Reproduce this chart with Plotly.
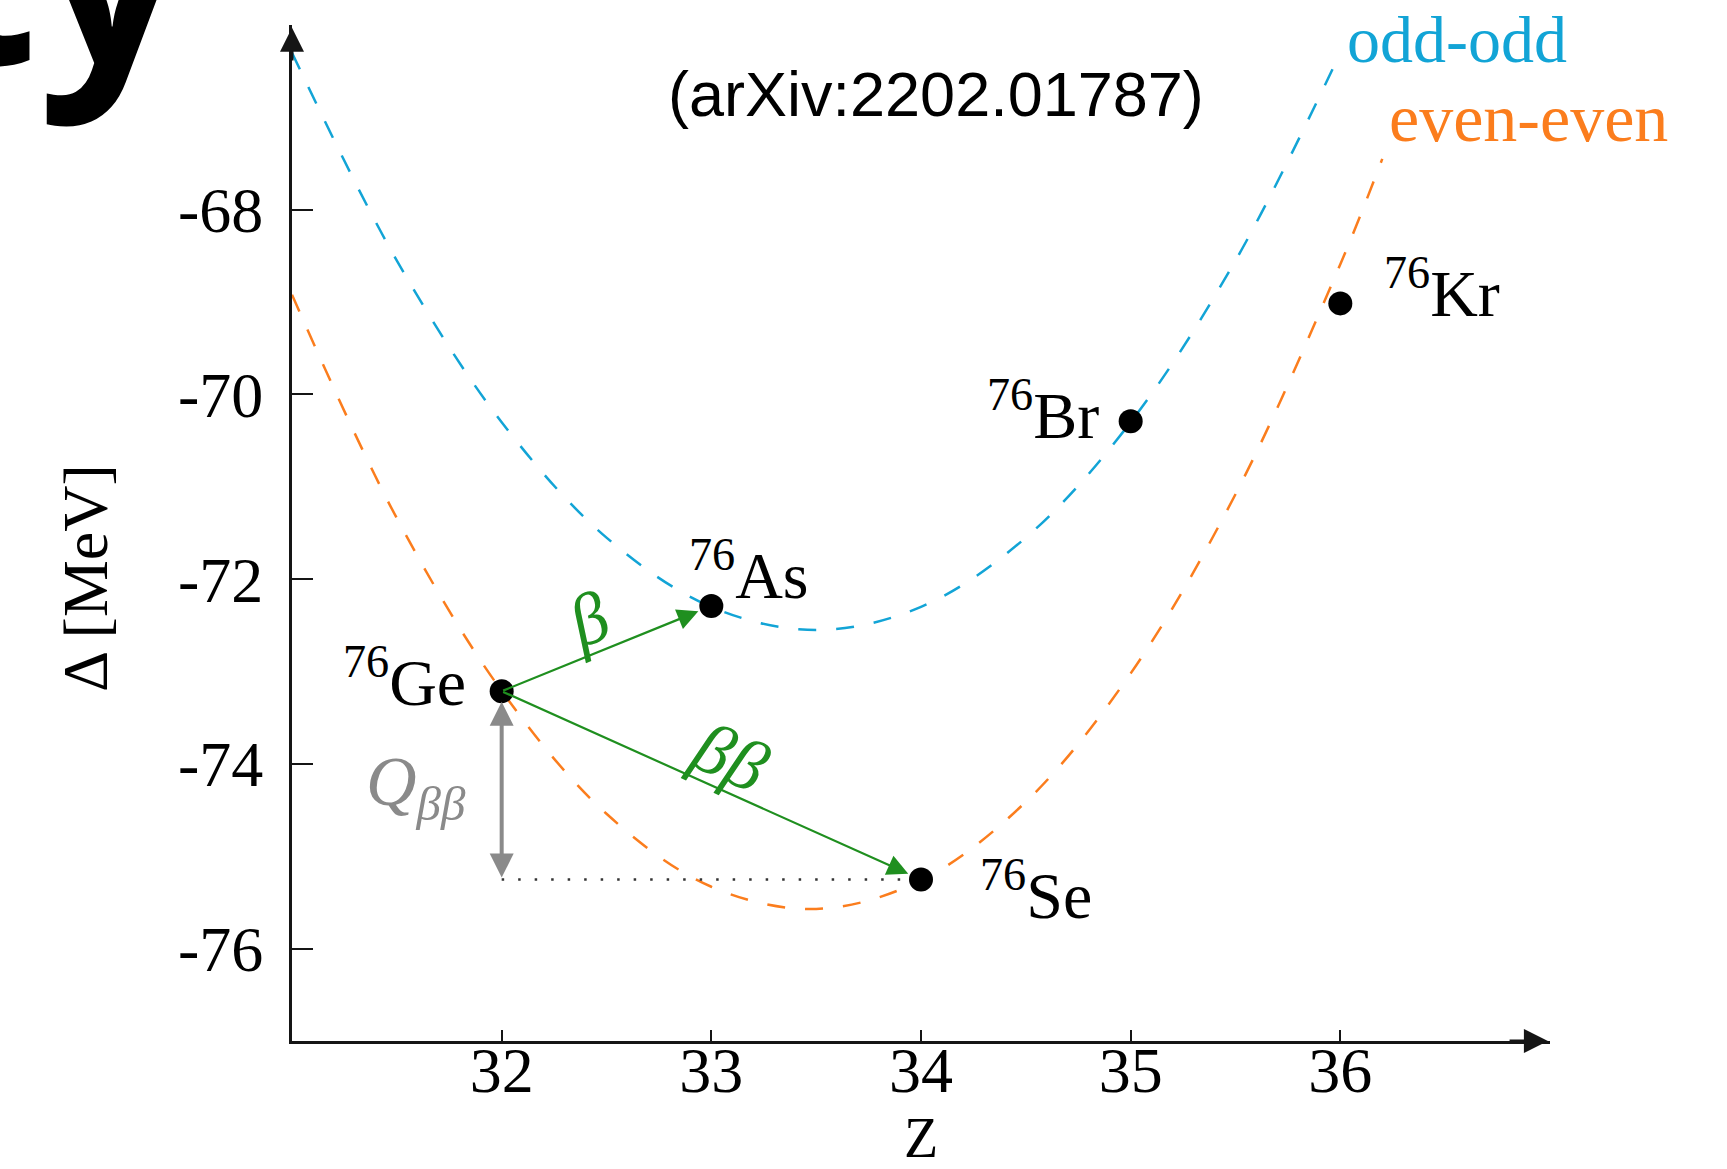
import plotly.graph_objects as go

# ---------------- data ----------------
nuclide_z = [32, 33, 34, 35, 36]
nuclide_delta = [-73.213, -72.291, -75.252, -70.289, -69.014]
nuclide_sym = ["Ge", "As", "Se", "Br", "Kr"]
mass_number = 76

# odd-odd parabola
odd_z = [31.0, 31.5, 32.0, 32.5, 33.0, 33.5, 34.0, 34.5, 35.0, 35.5, 36.0]
odd_delta = [-66.30, -68.55, -70.30, -71.55, -72.30, -72.55, -72.30, -71.55, -70.30, -68.55, -66.30]

# even-even parabola
even_z = [31.0, 31.5, 32.0, 32.5, 33.0, 33.5, 34.0, 34.5, 35.0, 35.5, 36.0, 36.2]
even_delta = [-68.92, -71.34, -73.21, -74.54, -75.33, -75.57, -75.26, -74.41, -73.02, -71.08, -68.59, -67.45]

x_ticks = [32, 33, 34, 35, 36]
y_ticks = [-68, -70, -72, -74, -76]
y_ticktext = ["-68", "-70", "-72", "-74", "-76"]

# ---------------- style ----------------
W, H = 1727, 1169
ML, MR, MT, MB = 292, 177, 25, 128
SERIF = "Liberation Serif"
BLUE = "#12a4d6"
ORANGE = "#fb7d1d"
GREEN = "#1f8f1f"
GRAY = "#8a8a8a"
AXC = "#151515"
FS = 64

fig = go.Figure()

fig.add_trace(go.Scatter(x=odd_z, y=odd_delta, mode="lines", line_shape="spline",
                         line=dict(color=BLUE, width=2.5, dash="18px,20px"),
                         hoverinfo="skip", showlegend=False))
fig.add_trace(go.Scatter(x=even_z, y=even_delta, mode="lines", line_shape="spline",
                         line=dict(color=ORANGE, width=2.5, dash="18px,20px"),
                         hoverinfo="skip", showlegend=False))

# dotted Q-value level line (Ge -> Se level)
ge_i, se_i = nuclide_sym.index("Ge"), nuclide_sym.index("Se")
fig.add_trace(go.Scatter(x=[nuclide_z[ge_i], nuclide_z[se_i]],
                         y=[nuclide_delta[se_i], nuclide_delta[se_i]],
                         mode="lines", line=dict(color="#333333", width=2.5, dash="2.5px,14px"),
                         hoverinfo="skip", showlegend=False))

fig.add_trace(go.Scatter(x=nuclide_z, y=nuclide_delta, mode="markers",
                         marker=dict(color="black", size=24),
                         hoverinfo="skip", showlegend=False))

# ---------------- annotations ----------------
label_pos = {
    "Ge": dict(xanchor="right", yanchor="bottom", xshift=-34, yshift=-30),
    "As": dict(xanchor="left", yanchor="bottom", xshift=-24, yshift=-8),
    "Se": dict(xanchor="left", yanchor="bottom", xshift=57, yshift=-54),
    "Br": dict(xanchor="right", yanchor="bottom", xshift=-30, yshift=-33),
    "Kr": dict(xanchor="left", yanchor="bottom", xshift=42, yshift=-29),
}
for z, d, s in zip(nuclide_z, nuclide_delta, nuclide_sym):
    fig.add_annotation(x=z, y=d, xref="x", yref="y", showarrow=False,
                       text=f"<sup>{mass_number}</sup>{s}",
                       font=dict(family=SERIF, size=FS + 2, color="black"),
                       **label_pos[s])

ge_z, ge_d = nuclide_z[ge_i], nuclide_delta[ge_i]
as_i = nuclide_sym.index("As")
# beta arrow Ge -> As
fig.add_annotation(x=nuclide_z[as_i], y=nuclide_delta[as_i], ax=ge_z, ay=ge_d,
                   xref="x", yref="y", axref="x", ayref="y", text="",
                   showarrow=True, arrowhead=2, arrowsize=1.9, arrowwidth=2.2,
                   arrowcolor=GREEN, standoff=14)
# double beta arrow Ge -> Se
fig.add_annotation(x=nuclide_z[se_i], y=nuclide_delta[se_i], ax=ge_z, ay=ge_d,
                   xref="x", yref="y", axref="x", ayref="y", text="",
                   showarrow=True, arrowhead=2, arrowsize=1.9, arrowwidth=2.2,
                   arrowcolor=GREEN, standoff=14)
# Q_bb double arrow
fig.add_annotation(x=ge_z, y=nuclide_delta[se_i], ax=ge_z, ay=ge_d,
                   xref="x", yref="y", axref="x", ayref="y", text="",
                   showarrow=True, arrowside="end+start",
                   arrowhead=2, startarrowhead=2, arrowsize=1.2, startarrowsize=1.2,
                   arrowwidth=4, arrowcolor=GRAY, standoff=2, startstandoff=9)

fig.add_annotation(x=32.41, y=-72.44, xref="x", yref="y", showarrow=False,
                   text="<i>β</i>", textangle=-22,
                   font=dict(family=SERIF, size=72, color=GREEN))
fig.add_annotation(x=33.09, y=-73.92, xref="x", yref="y", showarrow=False,
                   text="<i>ββ</i>", textangle=24,
                   font=dict(family=SERIF, size=72, color=GREEN))
fig.add_annotation(x=31.59, y=-74.25, xref="x", yref="y", showarrow=False,
                   text="<i>Q</i><sub><i>ββ</i></sub>",
                   font=dict(family=SERIF, size=70, color=GRAY))

fig.add_annotation(x=36.024, y=-66.16, xref="x", yref="y", showarrow=False,
                   xanchor="left", yanchor="middle", text="odd-odd",
                   font=dict(family=SERIF, size=66, color=BLUE))
fig.add_annotation(x=36.224, y=-67.01, xref="x", yref="y", showarrow=False,
                   xanchor="left", yanchor="middle", text="even-even",
                   font=dict(family=SERIF, size=68, color=ORANGE))

# axis arrowheads
fig.add_annotation(x=31, y=-66.03, ax=31, ay=-66.4, xref="x", yref="y", axref="x", ayref="y",
                   text="", showarrow=True, arrowhead=2, arrowsize=1.6, arrowwidth=3,
                   arrowcolor=AXC, standoff=0)
fig.add_annotation(x=36.99, y=-77, ax=36.8, ay=-77, xref="x", yref="y", axref="x", ayref="y",
                   text="", showarrow=True, arrowhead=2, arrowsize=1.6, arrowwidth=3,
                   arrowcolor=AXC, standoff=0)

# axis titles (pixel positions, converted to paper below)
fig.add_annotation(x=86, y=578, xref="paper", yref="paper", showarrow=False,
                   xanchor="center", yanchor="middle",
                   text="Δ [MeV]", textangle=-90,
                   font=dict(family=SERIF, size=FS, color="black"))
fig.add_annotation(x=921, y=1138, xref="paper", yref="paper", showarrow=False,
                   xanchor="center", yanchor="middle", text="Z",
                   font=dict(family=SERIF, size=56, color="black"))

# reference + slide title fragment
fig.add_annotation(x=936, y=94, xref="paper", yref="paper", showarrow=False,
                   xanchor="center", yanchor="middle",
                   text="(arXiv:2202.01787)",
                   font=dict(family="Liberation Sans", size=63, color="black"))
fig.add_annotation(x=190, y=142, xref="paper", yref="paper", showarrow=False,
                   xanchor="right", yanchor="bottom", text="<b>ty</b>",
                   font=dict(family="Open Sans", size=260, color="black"))

# convert pixel positions of paper-referenced annotations
PW, PH = W - ML - MR, H - MT - MB
for a in fig.layout.annotations:
    if a.xref == "paper":
        a.x = (a.x - ML) / PW
        a.y = (H - MB - a.y) / PH

fig.update_layout(
    width=W, height=H,
    margin=dict(l=ML, r=MR, t=MT, b=MB, pad=0),
    paper_bgcolor="white", plot_bgcolor="white",
    showlegend=False,
    xaxis=dict(range=[31, 37], showgrid=False, zeroline=False, automargin=False,
               showline=True, linecolor=AXC, linewidth=3,
               ticks="inside", ticklen=11, tickwidth=2, tickcolor=AXC,
               tickvals=x_ticks, ticktext=[str(v) for v in x_ticks],
               tickfont=dict(family=SERIF, size=FS, color="black"),
               ticklabelstandoff=-29),
    yaxis=dict(range=[-77, -66], showgrid=False, zeroline=False, automargin=False,
               showline=True, linecolor=AXC, linewidth=3,
               ticks="inside", ticklen=21, tickwidth=2, tickcolor=AXC,
               tickvals=y_ticks, ticktext=y_ticktext,
               tickfont=dict(family=SERIF, size=FS, color="black"),
               ticklabelstandoff=13),
)

fig.write_html("out.html")
